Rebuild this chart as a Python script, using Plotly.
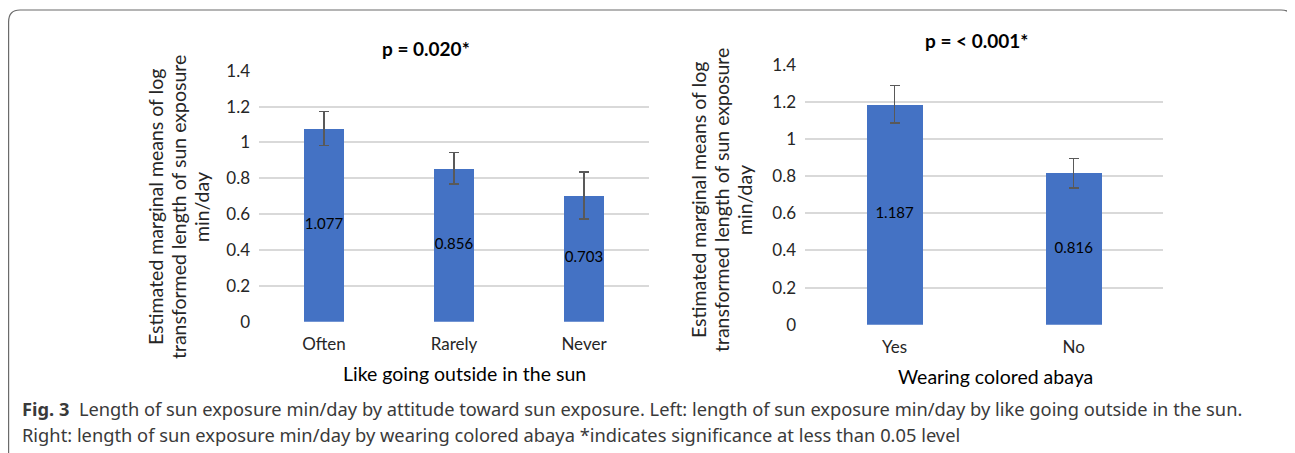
import plotly.graph_objects as go

# page is rendered with an 8px body margin; figure fills the rest of the window
OFF = 8
W, H = 1295 - OFF, 453 - OFF

# ---- data ----
left_cats = ["Often", "Rarely", "Never"]
left_vals = [1.077, 0.856, 0.703]
left_err = [0.095, 0.088, 0.131]
left_title = "p = 0.020*"
left_xtitle = "Like going outside in the sun"

right_cats = ["Yes", "No"]
right_vals = [1.187, 0.816]
right_err = [0.100, 0.080]
right_title = "p = < 0.001*"
right_xtitle = "Wearing colored abaya"

ytitle_lines = ["Estimated marginal means of log",
                "transformed length of sun exposure",
                "min/day"]
yticks = [0, 0.2, 0.4, 0.6, 0.8, 1.0, 1.2, 1.4]
yticktext = ["0", "0.2", "0.4", "0.6", "0.8", "1", "1.2", "1.4"]

caption1 = "<b>Fig. 3</b>  Length of sun exposure min/day by attitude toward sun exposure. Left: length of sun exposure min/day by like going outside in the sun."
caption2 = "Right: length of sun exposure min/day by wearing colored abaya *indicates significance at less than 0.05 level"

BAR = "#4472C4"
FONT = "Lato"
TXT = "#262626"


def px(x):
    return (x - OFF) / W


def py(y):
    return (H - (y - OFF)) / H


fig = go.Figure()

for cats, vals, errs, xa, ya in [
    (left_cats, left_vals, left_err, "x", "y"),
    (right_cats, right_vals, right_err, "x2", "y2"),
]:
    fig.add_trace(go.Bar(
        x=cats, y=vals, width=0.313, marker=dict(color=BAR, line=dict(width=0)),
        error_y=dict(type="data", array=errs, color="#595959", thickness=1.5, width=5),
        xaxis=xa, yaxis=ya, showlegend=False, hoverinfo="skip",
    ))
    fig.add_trace(go.Scatter(
        x=cats, y=[v / 2 for v in vals], mode="text",
        text=[f"{v:.3f}" for v in vals],
        textfont=dict(family=FONT, size=15, color="#000000"),
        xaxis=xa, yaxis=ya, showlegend=False, hoverinfo="skip",
    ))

yax_common = dict(
    range=[0, 1.4], tickvals=yticks, ticktext=yticktext,
    showgrid=True, gridcolor="#D9D9D9", gridwidth=1.5, zeroline=False,
    showline=False, ticks="", tickfont=dict(family=FONT, size=17, color=TXT),
    ticklabelstandoff=8, fixedrange=True, automargin=False,
)
xax_common = dict(
    type="category", showgrid=False, zeroline=False, showline=False, ticks="",
    tickfont=dict(family=FONT, size=17, color=TXT), ticklabelstandoff=10,
    fixedrange=True, automargin=False,
)

fig.update_layout(
    width=W, height=H, margin=dict(l=0, r=0, t=0, b=0, pad=0, autoexpand=False),
    paper_bgcolor="white", plot_bgcolor="white",
    xaxis=dict(domain=[px(259), px(649)], anchor="y", **xax_common),
    yaxis=dict(domain=[py(321.7), py(70.7)], anchor="x", **yax_common),
    xaxis2=dict(domain=[px(805), px(1163.3)], anchor="y2", **xax_common),
    yaxis2=dict(domain=[py(324.7), py(64.7)], anchor="x2", **yax_common),
    bargap=0, showlegend=False,
)

ann = []


def add(text, x, y, size, color="#000000", family=FONT, xanchor="center", angle=0):
    ann.append(dict(text=text, x=px(x), y=py(y), xref="paper", yref="paper",
                    xanchor=xanchor, yanchor="middle", showarrow=False, textangle=angle,
                    font=dict(family=family, size=size, color=color)))


# chart titles
add(f"<b>{left_title}</b>", 425.5, 48.3, 19)
add(f"<b>{right_title}</b>", 976, 40, 19)
# x titles
add(left_xtitle, 464, 373, 19.5)
add(right_xtitle, 995, 376, 19.5)
# y titles (one annotation per line)
for xc, yc in [((155, 178, 201), 207), ((698, 721, 744), 200)]:
    for xl, line in zip(xc, ytitle_lines):
        add(line, xl, yc, 19.5, color=TXT, angle=-90)
# caption
add(caption1, 20, 408, 18.3, color="#3a3a3a", family="Noto Sans", xanchor="left")
add(caption2, 20, 434, 18.3, color="#3a3a3a", family="Noto Sans", xanchor="left")
fig.update_layout(annotations=ann)

# rounded frame
fig.add_shape(type="path", xref="paper", yref="paper",
              path=(f"M {px(8.6)},{py(470)} L {px(8.6)},{py(22)} Q {px(8.6)},{py(10)} {px(20)},{py(10)} "
                    f"L {px(1281)},{py(10)} Q {px(1293)},{py(10)} {px(1293)},{py(22)} L {px(1293)},{py(470)}"),
              line=dict(color="#6b6b6b", width=1.2))

fig.write_html("out.html")
